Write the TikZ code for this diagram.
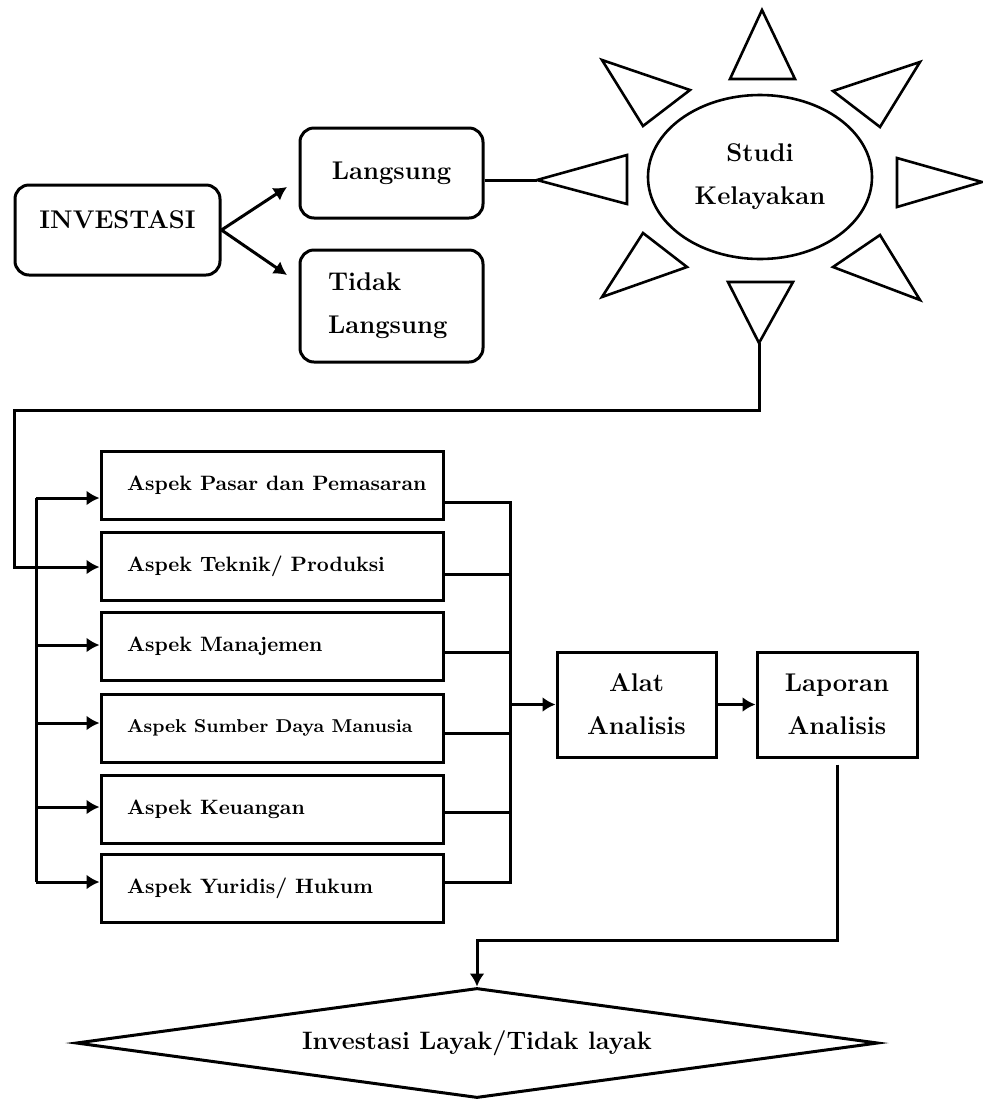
\documentclass[tikz,border=0pt]{standalone}
\usetikzlibrary{shapes.geometric,arrows.meta}
\newcommand\asptext[1]{\makebox[145pt][l]{#1}}
\begin{document}
\begin{tikzpicture}[x=0.5pt,y=-0.5pt, line width=1.5pt,
  base/.style={draw, font=\bfseries\fontsize{12.8}{21.5}\selectfont, inner sep=0pt},
  rbox/.style={base, rounded corners=7pt},
  abox/.style={draw, font=\bfseries\fontsize{10.4}{12}\selectfont, minimum width=171pt, minimum height=34pt, inner xsep=13pt, inner ysep=0pt},
  sbox/.style={base, minimum width=79.5pt, minimum height=52.5pt, align=center},
  arr/.style={-{Latex[length=6.5pt,width=7.5pt]}},
  tri/.style={line width=1.3pt, line join=miter}
]
\useasboundingbox (0,0) rectangle (983,1099);

% top nodes
\node[rbox, minimum width=102.5pt, minimum height=45pt, text depth=10pt] (inv) at (117.5,230) {INVESTASI};
\node[rbox, minimum width=91.5pt, minimum height=45pt] (lang) at (391.5,173) {Langsung};
\node[rbox, minimum width=91.5pt, minimum height=56pt, text width=63.5pt, align=left] (tidak) at (391.5,306) {Tidak\\Langsung};
\node[base, ellipse, minimum width=112pt, minimum height=82pt, align=center, line width=1.3pt] (sk) at (760,177) {Studi\\Kelayakan};

% sun rays
\draw[tri] (762,10) -- (795,79) -- (730,79) -- cycle;
\draw[tri] (920,62) -- (880,127) -- (833,91) -- cycle;
\draw[tri] (982,182) -- (897,207) -- (897,158) -- cycle;
\draw[tri] (920,300) -- (833,267) -- (880,235) -- cycle;
\draw[tri] (759,343) -- (728,282) -- (793,282) -- cycle;
\draw[tri] (602,297) -- (643,233) -- (687,267) -- cycle;
\draw[tri] (537,180) -- (627,155) -- (627,204) -- cycle;
\draw[tri] (602,60) -- (690,90) -- (643,126) -- cycle;

% aspect boxes
\node[abox] (p1) at (272,485.5) {\asptext{Aspek Pasar dan Pemasaran}};
\node[abox] (p2) at (272,566) {\asptext{Aspek Teknik/ Produksi}};
\node[abox] (p3) at (272,646.5) {\asptext{Aspek Manajemen}};
\node[abox, font=\bfseries\fontsize{9.3}{11}\selectfont] (p4) at (272,728) {\asptext{Aspek Sumber Daya Manusia}};
\node[abox] (p5) at (272,809) {\asptext{Aspek Keuangan}};
\node[abox] (p6) at (272,888.5) {\asptext{Aspek Yuridis/ Hukum}};

\node[sbox] (alat) at (636.5,704.5) {Alat\\Analisis};
\node[sbox, minimum width=80pt] (lap) at (837,704.5) {Laporan\\Analisis};

\node[draw, diamond, shape aspect=7.3, minimum width=401pt, minimum height=55pt, inner sep=0pt, font=\bfseries\fontsize{12.6}{14}\selectfont] (dia) at (477,1043) {Investasi Layak/Tidak layak};

% connectors top
\coordinate (a1) at (287,187);
\coordinate (a2) at (287,275);
\draw[arr] (inv.east) -- (a1);
\draw[arr] (inv.east) -- (a2);

\coordinate (tipL) at (537,180);
\draw (lang.east |- tipL) -- (tipL);

\coordinate (tipB) at (759,343);
\coordinate (c1) at (759,410);
\coordinate (c2) at (14,410);
\coordinate (c3) at (14,567);
\draw[arr] (tipB) -- (c1) -- (c2) -- (c3) -- (c3 -| p2.west);

% inner bus
\coordinate (i1) at (36,498);
\coordinate (i3) at (36,645);
\coordinate (i4) at (36,723);
\coordinate (i5) at (36,807);
\coordinate (i6) at (36,882);
\draw (i1) -- (i6);
\draw[arr] (i1) -- (i1 -| p1.west);
\draw[arr] (i3) -- (i3 -| p3.west);
\draw[arr] (i4) -- (i4 -| p4.west);
\draw[arr] (i5) -- (i5 -| p5.west);
\draw[arr] (i6) -- (i6 -| p6.west);

% output bus
\coordinate (o1) at (510,502);
\coordinate (o2) at (510,574);
\coordinate (o3) at (510,652);
\coordinate (o4) at (510,733);
\coordinate (o5) at (510,812);
\coordinate (o6) at (510,882);
\draw (o1 -| p1.east) -- (o1) -- (o6) -- (o6 -| p6.east);
\draw (o2 -| p2.east) -- (o2);
\draw (o3 -| p3.east) -- (o3);
\draw (o4 -| p4.east) -- (o4);
\draw (o5 -| p5.east) -- (o5);
\draw[arr] (alat.west -| o1) -- (alat.west);
\draw[arr] (alat.east) -- (lap.west);

\coordinate (d1) at (837,940);
\draw[arr] ([yshift=-3pt]lap.south) -- (lap.south |- d1) -- (dia.north |- d1) -- (dia.north);
\end{tikzpicture}
\end{document}
